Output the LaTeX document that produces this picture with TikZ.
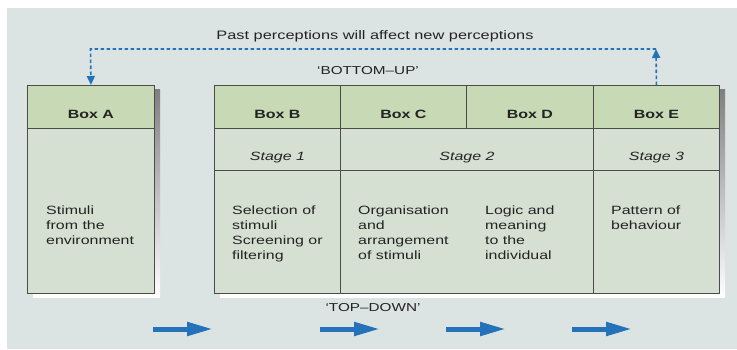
\documentclass[tikz,border=0pt]{standalone}
\usepackage{fontspec}
\setmainfont{Liberation Sans}[FakeStretch=1.33]
\usetikzlibrary{arrows.meta}
\definecolor{panel}{RGB}{219,227,227}
\definecolor{shade}{RGB}{160,184,187}
\definecolor{headfill}{RGB}{200,217,182}
\definecolor{bodyfill}{RGB}{213,224,211}
\definecolor{edge}{RGB}{75,75,75}
\definecolor{ink}{RGB}{35,35,35}
\definecolor{arrowblue}{RGB}{36,115,186}
\tikzset{
	head/.style={draw=edge,line width=.9pt,fill=headfill,text=ink,font=\fontsize{12}{14}\selectfont\bfseries,anchor=north west,inner sep=0,text height=33pt,text depth=10pt},
	stage/.style={draw=edge,line width=.9pt,fill=bodyfill,text=ink,font=\fontsize{12}{14}\selectfont\itshape,anchor=north west,inner sep=0,text height=32pt,text depth=10pt},
	cell/.style={draw=edge,line width=.9pt,fill=bodyfill,anchor=north west,inner sep=0,minimum height=123pt},
	note/.style={anchor=north west,align=left,inner sep=0,text=ink,font=\fontsize{12}{14.7}\selectfont},
	title/.style={inner sep=0,text=ink,font=\fontsize{11.5}{14}\selectfont},
	feedback/.style={arrowblue,line width=1.6pt,dash pattern=on 3.5pt off 2.5pt,-{Triangle[length=9pt,width=8pt]}},
	flow/.style={arrowblue,line width=5pt,-{Triangle[length=26pt,width=13pt]}}
}
\begin{document}
\begin{tikzpicture}[x=1pt,y=-1pt]
	\useasboundingbox (0,0) rectangle (737,349);
	\fill[white] (0,0) rectangle (737,349);
	\fill[panel] (7,8) rectangle (737,349);
	% shadows
	\fill[shade] (33,89) rectangle (160,297);
	\fill[shade] (220,89) rectangle (725,297);
	% box A
	\node[head,minimum width=127pt] (boxA) at (27,85) {Box A};
	\node[cell,minimum width=127pt,minimum height=165pt] (bodyA) at (27,128) {};
	% boxes B to E
	\node[head,minimum width=126pt] (boxB) at (214,85) {Box B};
	\node[head,minimum width=126pt] (boxC) at (340,85) {Box C};
	\node[head,minimum width=127pt] (boxD) at (466,85) {Box D};
	\node[head,minimum width=126pt] (boxE) at (593,85) {Box E};
	\node[stage,minimum width=126pt] (stage1) at (214,128) {Stage 1};
	\node[stage,minimum width=253pt] (stage2) at (340,128) {Stage 2};
	\node[stage,minimum width=126pt] (stage3) at (593,128) {Stage 3};
	\node[cell,minimum width=126pt] (bodyB) at (214,170) {};
	\node[cell,minimum width=253pt] (bodyCD) at (340,170) {};
	\node[cell,minimum width=126pt] (bodyE) at (593,170) {};
	% cell texts
	\node[note] (txtA) at (46,206) {Stimuli\\from the\\environment};
	\node[note] (txtB) at (232,206) {Selection of\\stimuli\\Screening or\\filtering};
	\node[note] (txtC) at (358,206) {Organisation\\and\\arrangement\\of stimuli};
	\node[note] (txtD) at (485,206) {Logic and\\meaning\\to the\\individual};
	\node[note] (txtE) at (611,206) {Pattern of\\behaviour};
	% labels
	\node[title,font=\fontsize{12.3}{14}\selectfont] (past) at (375,36) {Past perceptions will affect new perceptions};
	\node[title] (bottomup) at (368,71) {‘BOTTOM–UP’};
	\node[title] (topdown) at (373,308) {‘TOP–DOWN’};
	% feedback loop
	\coordinate (loopE) at (656,49);
	\coordinate (loopA) at (90.5,49);
	\draw[feedback] (boxE.north) -- (loopE);
	\draw[feedback] (loopE) -- (loopA) -- (boxA.north);
	% flow arrows
	\foreach \x in {153,320,446,572}
		\draw[flow] (\x,329) -- ++(60,0);
\end{tikzpicture}
\end{document}
